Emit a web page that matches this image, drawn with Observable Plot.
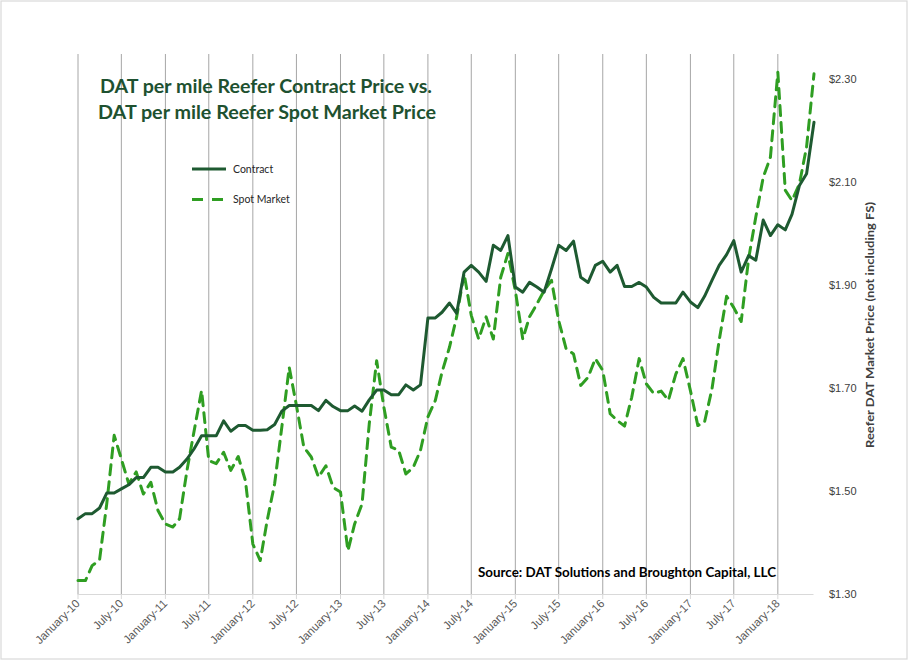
<!DOCTYPE html>
<html>
<head>
<meta charset="utf-8">
<script src="https://cdn.jsdelivr.net/npm/d3@7"></script>
<script src="https://cdn.jsdelivr.net/npm/@observablehq/plot@0.6"></script>
<style>
  html, body { margin: 0; padding: 0; background: #ffffff; }
  #chart { width: 911px; height: 661px; }
</style>
</head>
<body>
<div id="chart"></div>
<script>
// ---- Data (monthly, January 2010 – June 2018) ----
const firstMonth = "2010-01";

const contractPrice = [
  1.447, 1.457, 1.457, 1.468, 1.497, 1.497, 1.505, 1.513, 1.527, 1.527, 1.547, 1.547,
  1.538, 1.538, 1.547, 1.563, 1.583, 1.608, 1.608, 1.608, 1.637, 1.617, 1.628, 1.628,
  1.619, 1.619, 1.620, 1.630, 1.656, 1.667, 1.667, 1.667, 1.667, 1.657, 1.677, 1.665,
  1.657, 1.657, 1.666, 1.656, 1.678, 1.697, 1.697, 1.688, 1.688, 1.707, 1.697, 1.707,
  1.837, 1.837, 1.848, 1.866, 1.846, 1.926, 1.939, 1.926, 1.908, 1.978, 1.968, 1.997,
  1.897, 1.887, 1.906, 1.897, 1.887, 1.932, 1.978, 1.968, 1.986, 1.916, 1.906, 1.939,
  1.947, 1.926, 1.939, 1.898, 1.898, 1.906, 1.897, 1.877, 1.866, 1.866, 1.866, 1.887,
  1.868, 1.857, 1.879, 1.910, 1.939, 1.960, 1.987, 1.926, 1.958, 1.949, 2.027, 1.997,
  2.018, 2.008, 2.038, 2.094, 2.117, 2.217
];

const spotPrice = [
  1.327, 1.327, 1.356, 1.367, 1.476, 1.609, 1.563, 1.515, 1.538, 1.495, 1.518, 1.463,
  1.437, 1.431, 1.447, 1.541, 1.618, 1.696, 1.560, 1.554, 1.576, 1.541, 1.568, 1.521,
  1.398, 1.366, 1.444, 1.515, 1.625, 1.741, 1.667, 1.586, 1.567, 1.528, 1.550, 1.508,
  1.499, 1.385, 1.437, 1.476, 1.631, 1.754, 1.664, 1.586, 1.580, 1.534, 1.547, 1.580,
  1.645, 1.677, 1.732, 1.780, 1.839, 1.923, 1.842, 1.796, 1.839, 1.796, 1.916, 1.962,
  1.890, 1.796, 1.839, 1.864, 1.890, 1.910, 1.832, 1.777, 1.767, 1.706, 1.722, 1.758,
  1.735, 1.651, 1.638, 1.627, 1.683, 1.758, 1.709, 1.690, 1.695, 1.677, 1.728, 1.758,
  1.696, 1.628, 1.635, 1.699, 1.793, 1.879, 1.857, 1.830, 1.952, 2.033, 2.110, 2.149,
  2.314, 2.085, 2.065, 2.097, 2.169, 2.311
];

const xTickLabels = [
  "January-10", "July-10", "January-11", "July-11", "January-12", "July-12",
  "January-13", "July-13", "January-14", "July-14", "January-15", "July-15",
  "January-16", "July-16", "January-17", "July-17", "January-18"
];

const yTicks = [1.30, 1.50, 1.70, 1.90, 2.10, 2.30];

const seriesNames = ["Contract", "Spot Market"];

const titleLines = [
  "DAT per mile Reefer Contract Price vs.",
  "DAT per mile Reefer Spot Market Price"
];
const sourceText = "Source: DAT Solutions and Broughton Capital, LLC";
const yAxisTitle = "Reefer DAT Market Price (not including FS)";

// ---- Build tables ----
const start = d3.utcParse("%Y-%m")(firstMonth);
const months = contractPrice.map((_, i) => d3.utcMonth.offset(start, i));
const contractRows = months.map((date, i) => ({date, value: contractPrice[i]}));
const spotRows = months.map((date, i) => ({date, value: spotPrice[i]}));
const tickDates = xTickLabels.map((_, i) => d3.utcMonth.offset(start, 6 * i));
const labelOf = new Map(tickDates.map((d, i) => [+d, xTickLabels[i]]));

const contractColor = "#1e5a31";
const spotColor = "#2f9e22";

const chart = Plot.plot({
  width: 911,
  height: 661,
  marginLeft: 77.5,
  marginRight: 97.5,
  marginTop: 54,
  marginBottom: 67,
  style: {fontFamily: "'Liberation Sans', Arial, sans-serif", fontSize: "11px", background: "transparent", overflow: "visible"},
  x: {type: "utc", domain: [start, months[months.length - 1]]},
  y: {domain: [1.30, 2.3485]},
  marks: [
    Plot.ruleX(tickDates, {stroke: "#a6a6a6", strokeWidth: 1}),
    Plot.ruleY([1.30], {stroke: "#d9d9d9", strokeWidth: 1.2}),
    Plot.axisX({
      ticks: tickDates,
      tickFormat: d => labelOf.get(+d),
      tickRotate: -45,
      tickSize: 5,
      tickPadding: 2,
      stroke: "#d9d9d9",
      fill: "#595959",
      fontSize: 11.5,
      label: null
    }),
    Plot.axisY({
      anchor: "right",
      ticks: yTicks,
      tickFormat: d => "$" + d.toFixed(2),
      tickSize: 0,
      tickPadding: 15,
      fill: "#404040",
      fontSize: 11,
      label: null
    }),
    Plot.lineY(spotRows, {x: "date", y: "value", stroke: spotColor, strokeWidth: 3, strokeDasharray: "10,7"}),
    Plot.lineY(contractRows, {x: "date", y: "value", stroke: contractColor, strokeWidth: 3})
  ]
});

const wrap = document.getElementById("chart");
wrap.appendChild(chart);

// ---- Overlay: border, title, legend, source, right axis title ----
const svg = d3.select(chart);
svg.insert("rect", ":first-child")
  .attr("x", 1).attr("y", 1).attr("width", 906).attr("height", 658)
  .attr("fill", "#ffffff").attr("stroke", "#d9d9d9").attr("stroke-width", 1.2);

const overlay = svg.append("g").attr("text-anchor", "start");

const titleFont = "Lato, 'Liberation Sans', sans-serif";
const titlePos = [{x: 100, y: 93, len: 332}, {x: 98, y: 119, len: 338}];
titleLines.forEach((t, i) => {
  overlay.append("text")
    .attr("x", titlePos[i].x).attr("y", titlePos[i].y)
    .attr("text-anchor", "start")
    .attr("textLength", titlePos[i].len).attr("lengthAdjust", "spacingAndGlyphs")
    .attr("font-family", titleFont).attr("font-weight", "bold").attr("font-size", 18)
    .attr("fill", "#1e5130")
    .text(t);
});

const legend = [
  {y: 169, color: contractColor, dash: null},
  {y: 199.5, color: spotColor, dash: "11,9"}
];
legend.forEach((l, i) => {
  overlay.append("line")
    .attr("x1", 192).attr("x2", 226).attr("y1", l.y).attr("y2", l.y)
    .attr("stroke", l.color).attr("stroke-width", 3)
    .attr("stroke-dasharray", l.dash);
  overlay.append("text")
    .attr("x", 233).attr("y", l.y + 3.5)
    .attr("text-anchor", "start")
    .attr("font-family", titleFont).attr("font-size", 10.5)
    .attr("fill", "#262626")
    .text(seriesNames[i]);
});

overlay.append("text")
  .attr("x", 478).attr("y", 576.5)
  .attr("text-anchor", "start")
  .attr("textLength", 298).attr("lengthAdjust", "spacingAndGlyphs")
  .attr("font-family", titleFont).attr("font-weight", "bold").attr("font-size", 14)
  .attr("fill", "#000000")
  .text(sourceText);

overlay.append("text")
  .attr("transform", "translate(874,325) rotate(-90)")
  .attr("text-anchor", "middle")
  .attr("textLength", 246).attr("lengthAdjust", "spacingAndGlyphs")
  .attr("font-family", titleFont).attr("font-weight", "bold").attr("font-size", 12)
  .attr("fill", "#404040")
  .text(yAxisTitle);
</script>
</body>
</html>
